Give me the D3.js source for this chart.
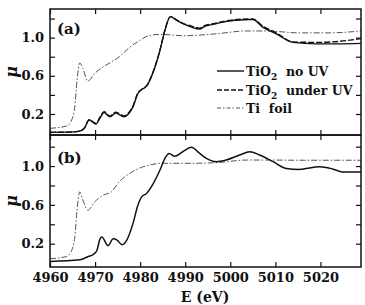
<!DOCTYPE html>
<html>
<head>
<meta charset="utf-8">
<script src="https://cdn.jsdelivr.net/npm/d3@7"></script>
<style>
  body { margin: 0; background: #fff; }
  text { font-family: "DejaVu Serif", serif; fill: #111; }
  .tick text { font-size: 13px; font-weight: bold; }
  .domain { display: none; }
  .tick line { stroke: #111; stroke-width: 1.2; }
</style>
</head>
<body>
<div id="chart"></div>
<script>
// energies (eV) and mu values
var aNoUV_E = [4960, 4964, 4966.6, 4967.6, 4968.7, 4970.2, 4971.0, 4972.0, 4973.3, 4974.6, 4976.4, 4977.4, 4978.4, 4979.5, 4980.7, 4981.4, 4982.9, 4984.4, 4985.5, 4986.7, 4988.1, 4989.5, 4991.4, 4993.2, 4994.3, 4996.2, 4998.4, 5000.6, 5003.6, 5005.0, 5007.2, 5010.2, 5013.9, 5019.0, 5024, 5029];
var aNoUV_mu = [0.008, 0.01, 0.02, 0.05, 0.137, 0.095, 0.15, 0.215, 0.17, 0.21, 0.17, 0.2, 0.275, 0.415, 0.467, 0.49, 0.64, 0.867, 1.076, 1.22, 1.18, 1.146, 1.11, 1.09, 1.118, 1.139, 1.163, 1.18, 1.188, 1.19, 1.11, 1.04, 0.95, 0.935, 0.935, 0.94];

var aUV_E = [4960, 4964, 4966.6, 4967.6, 4968.7, 4970.2, 4971.0, 4972.0, 4973.3, 4974.6, 4976.4, 4977.4, 4978.4, 4979.5, 4980.7, 4981.4, 4982.9, 4984.4, 4985.5, 4986.7, 4988.1, 4989.5, 4991.4, 4993.2, 4994.3, 4996.2, 4998.4, 5000.6, 5003.6, 5005.0, 5007.2, 5010.2, 5013.9, 5019.0, 5024, 5029];
var aUV_mu = [0.008, 0.01, 0.02, 0.05, 0.14, 0.1, 0.16, 0.225, 0.18, 0.22, 0.18, 0.21, 0.28, 0.42, 0.47, 0.495, 0.645, 0.87, 1.08, 1.22, 1.185, 1.15, 1.12, 1.1, 1.125, 1.145, 1.17, 1.185, 1.195, 1.195, 1.12, 1.05, 0.955, 0.95, 0.96, 0.99];

var foil_E = [4960, 4963.7, 4964.8, 4965.5, 4966.0, 4966.6, 4967.3, 4968.4, 4969.9, 4971.8, 4973.6, 4975.4, 4977.7, 4979.9, 4982.1, 4984.4, 4990, 4996.8, 5003.6, 5008, 5015.3, 5022, 5029];
var aFoil_mu = [0.05, 0.074, 0.137, 0.275, 0.554, 0.735, 0.676, 0.544, 0.624, 0.693, 0.745, 0.8, 0.9, 0.97, 1.024, 1.034, 1.02, 1.04, 1.07, 1.07, 1.05, 1.05, 1.07];
var bFoil_mu = [0.045, 0.068, 0.13, 0.268, 0.545, 0.734, 0.648, 0.545, 0.63, 0.7, 0.734, 0.84, 0.924, 0.98, 1.01, 1.028, 1.028, 1.035, 1.062, 1.062, 1.06, 1.06, 1.06];

var b_E = [4960, 4966.6, 4968.5, 4969.6, 4970.4, 4971.1, 4971.5, 4972.9, 4974.0, 4974.8, 4976.0, 4977.0, 4978.4, 4979.5, 4980.3, 4981.4, 4982.9, 4984.4, 4985.5, 4986.4, 4987.7, 4989.2, 4991.4, 4993.2, 4994.7, 4996.9, 4999.1, 5002.1, 5004.3, 5006.5, 5009.5, 5012.4, 5015.3, 5019.8, 5022.7, 5024.9, 5029];
var b_mu = [0.017, 0.034, 0.068, 0.089, 0.13, 0.25, 0.268, 0.18, 0.25, 0.24, 0.19, 0.234, 0.407, 0.596, 0.68, 0.717, 0.82, 0.96, 1.08, 1.13, 1.10, 1.14, 1.195, 1.13, 1.08, 1.045, 1.062, 1.114, 1.148, 1.114, 1.045, 0.976, 0.965, 0.993, 0.97, 0.94, 0.94];

var xTicks = [4960, 4970, 4980, 4990, 5000, 5010, 5020];
var yTicks = [0.2, 0.4, 0.6, 0.8, 1.0, 1.2];
var yLabels = [0.2, 0.6, 1.0];
var legendNames = ["no UV", "under UV", "Ti foil"];

var W = 365, H = 305;
var left = 50, right = 361;

var svg = d3.select("#chart").append("svg")
  .attr("width", W).attr("height", H);

var xScale = d3.scaleLinear().domain([4960, 5029]).range([left, right]);
var yA = d3.scaleLinear().domain([-0.02, 1.3]).range([135, 9]);
var yB = d3.scaleLinear().domain([-0.04, 1.32]).range([267, 135]);

function zip(E, mu) { return E.map(function(e, i) { return [e, mu[i]]; }); }

function panel(y, label, labelY, series) {
  var top = y.range()[1], bottom = y.range()[0];
  var g = svg.append("g");

  var clipId = "clip" + label;
  svg.append("clipPath").attr("id", clipId)
    .append("rect").attr("x", left).attr("y", top).attr("width", right - left).attr("height", bottom - top);

  var line = d3.line()
    .x(function(d) { return xScale(d[0]); })
    .y(function(d) { return y(d[1]); })
    .curve(d3.curveMonotoneX);

  series.forEach(function(s) {
    g.append("path")
      .attr("clip-path", "url(#" + clipId + ")")
      .attr("d", line(s.data))
      .attr("fill", "none")
      .attr("stroke", s.color)
      .attr("stroke-width", s.width)
      .attr("stroke-dasharray", s.dash);
  });

  // frame
  g.append("rect")
    .attr("x", left).attr("y", top)
    .attr("width", right - left).attr("height", bottom - top)
    .attr("fill", "none").attr("stroke", "#111").attr("stroke-width", 1.5);

  g.append("g").attr("transform", "translate(" + left + ",0)")
    .call(d3.axisLeft(y).tickValues(yTicks).tickSize(-5).tickPadding(6)
      .tickFormat(function(d) { return yLabels.indexOf(d) >= 0 ? d3.format(".1f")(d) : ""; }));
  g.append("g").attr("transform", "translate(" + right + ",0)")
    .call(d3.axisRight(y).tickValues(yTicks).tickSize(-5).tickFormat(""));
  g.append("g").attr("transform", "translate(0," + top + ")")
    .call(d3.axisTop(xScale).tickValues(xTicks).tickSize(-5).tickFormat(""));
  var bx = g.append("g").attr("transform", "translate(0," + bottom + ")")
    .call(d3.axisBottom(xScale).tickValues(xTicks).tickSize(-5).tickPadding(6)
      .tickFormat(d3.format("d")));
  if (label === "a") bx.selectAll("text").remove();

  g.append("text").attr("x", 57).attr("y", labelY)
    .style("font-size", "15px").style("font-weight", "bold")
    .text("(" + label + ")");

  g.append("text")
    .attr("transform", "translate(17," + ((top + bottom) / 2) + ") rotate(-90)")
    .attr("text-anchor", "middle")
    .style("font-size", "16px").style("font-weight", "bold").style("font-style", "italic")
    .text("\u03bc");
}

panel(yA, "a", 34, [
  { data: zip(foil_E, aFoil_mu), color: "#555", width: 1, dash: "6,2,1.5,2" },
  { data: zip(aUV_E, aUV_mu), color: "#111", width: 1.4, dash: "6,2" },
  { data: zip(aNoUV_E, aNoUV_mu), color: "#111", width: 1.4, dash: null }
]);

panel(yB, "b", 163, [
  { data: zip(foil_E, bFoil_mu), color: "#555", width: 1, dash: "6,2,1.5,2" },
  { data: zip(b_E, b_mu), color: "#111", width: 1.5, dash: null }
]);

// x title
svg.append("text").attr("x", 205).attr("y", 302)
  .attr("text-anchor", "middle")
  .style("font-size", "14px").style("font-weight", "bold")
  .text("E (eV)");

// legend
var legendStyles = [
  { dash: null, color: "#111", width: 1.4 },
  { dash: "5,2", color: "#111", width: 1.6 },
  { dash: "4,2,1.5,2", color: "#555", width: 1 }
];
var legRows = [71, 90, 108];
legendNames.forEach(function(name, i) {
  var ly = legRows[i];
  svg.append("line")
    .attr("x1", 217).attr("x2", 244).attr("y1", ly).attr("y2", ly)
    .attr("stroke", legendStyles[i].color)
    .attr("stroke-width", legendStyles[i].width)
    .attr("stroke-dasharray", legendStyles[i].dash);
  var t = svg.append("text").attr("x", 246).attr("y", ly + 4.5)
    .style("font-size", "12.5px").style("font-weight", "bold")
    .attr("xml:space", "preserve").style("white-space", "pre");
  if (i < 2) {
    t.append("tspan").text("TiO");
    t.append("tspan").attr("dy", 4).style("font-size", "9px").text("2");
    t.append("tspan").attr("dy", -4).text("  " + name);
  } else {
    t.text(name.replace(" ", "  "));
  }
});
</script>
</body>
</html>
